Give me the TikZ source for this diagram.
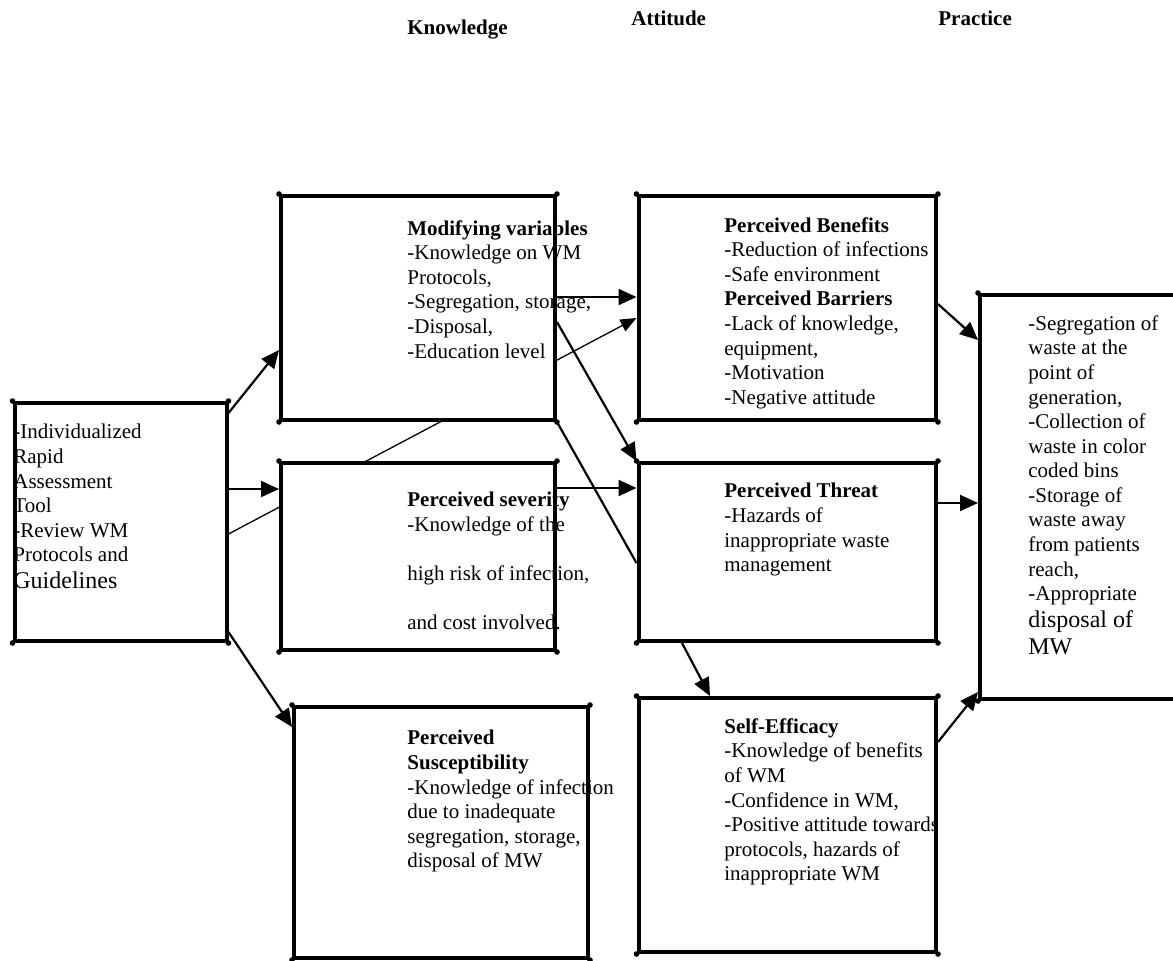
\documentclass[tikz,border=0pt]{standalone}
\usepackage{fontspec}
\setmainfont{Liberation Serif}
\usetikzlibrary{arrows.meta,fit,backgrounds}

\begin{document}
\begin{tikzpicture}[x=0.5pt,y=-0.5pt,
  hbmbox/.style={draw, line width=2pt, fill=white, inner sep=0pt},
  txt/.style={anchor=north west, inner sep=0pt, align=left,
    font=\fontsize{10.5}{12.3}\selectfont},
  head/.style={anchor=base west, inner sep=0pt,
    font=\fontsize{10.5}{12}\selectfont\bfseries},
  arr/.style={-{Triangle[length=9pt,width=8pt]}, line width=1.1pt},
  thinarr/.style={-{Triangle[length=8pt,width=6.5pt]}, line width=0.65pt},
  ]
  \useasboundingbox (0,0) rectangle (1173,960);
  \clip (0,0) rectangle (1173,960);
  %column titles
  \node[head] (khead) at (407,34) {Knowledge};
  \node[head] (ahead) at (631,25) {Attitude};
  \node[head] (phead) at (938,25) {Practice};
  %boxes
  \node[hbmbox, fit={(14.5,403) (226.5,641)}] (tool) {};
  \node[hbmbox, fit={(281,196) (555,420)}] (modvar) {};
  \node[hbmbox, fit={(281,463) (555,650)}] (sever) {};
  \node[hbmbox, fit={(294,707) (588,958)}] (susc) {};
  \node[hbmbox, fit={(638.5,196) (936,420)}] (benefit) {};
  \node[hbmbox, fit={(638.5,463) (936,641)}] (threat) {};
  \node[hbmbox, fit={(638.5,698) (936,952)}] (selfeff) {};
  \node[hbmbox, fit={(980,295) (1200,699)}] (practice) {};
  \foreach \b in {tool,modvar,sever,susc,benefit,threat,selfeff,practice}
    \foreach \c in {north west,north east,south west,south east}
      \fill (\b.\c) circle (1.4pt);
  %box texts
  \node[txt] (tooltxt) at (13,424) {-Individualized\\Rapid\\Assessment\\Tool\\
    -Review WM\\Protocols and\\[0.8pt]{\fontsize{12}{12.3}\selectfont Guidelines}};
  \node[txt] (modtxt) at (407,220) {\textbf{Modifying variables}\\-Knowledge on WM\\
    Protocols,\\-Segregation, storage,\\-Disposal,\\-Education level};
  \node[txt] (sevtxt) at (407,492) {\textbf{Perceived severity}\\-Knowledge of the\\[12.2pt]
    high risk of infection,\\[12pt]and cost involved.};
  \node[txt] (susctxt) at (407,730) {\textbf{Perceived}\\\textbf{Susceptibility}\\
    -Knowledge of infection\\due to inadequate\\segregation, storage,\\disposal of MW};
  \node[txt] (bentxt) at (724,217) {\textbf{Perceived Benefits}\\-Reduction of infections\\
    -Safe environment\\\textbf{Perceived Barriers}\\-Lack of knowledge,\\equipment,\\
    -Motivation\\-Negative attitude};
  \node[txt] (thrtxt) at (724,483) {\textbf{Perceived Threat}\\-Hazards of\\
    inappropriate waste\\management};
  \node[txt] (efftxt) at (724,718) {\textbf{Self-Efficacy}\\-Knowledge of benefits\\of WM\\
    -Confidence in WM,\\-Positive attitude towards\\protocols, hazards of\\inappropriate WM};
  \node[txt] (practxt) at (1028,315) {-Segregation of\\waste at the\\point of\\generation,\\
    -Collection of\\waste in color\\coded bins\\-Storage of\\waste away\\from patients\\
    reach,\\-Appropriate\\[1pt]{\fontsize{12}{12.3}\selectfont disposal of}\\[1.2pt]
    {\fontsize{12}{12.3}\selectfont MW}};
  %links
  \begin{pgfonlayer}{background}
    \draw[thinarr] (tool.east |- 0,534) -- (benefit.west |- 0,318);
  \end{pgfonlayer}
  \draw[arr] (tool.east |- 0,413) -- (modvar.west |- 0,350);
  \draw[arr] (tool.east |- 0,489) -- (sever.west |- 0,489);
  \draw[arr] (tool.east |- 0,632) -- (susc.west |- 0,727);
  \draw[arr] (modvar.east |- 0,297) -- (benefit.west |- 0,297);
  \draw[arr] (modvar.east |- 0,322) -- (threat.north west);
  \draw[line width=1.1pt] (modvar.south east) -- (threat.west |- 0,563);
  \draw[arr] (sever.east |- 0,488) -- (threat.west |- 0,488);
  \draw[arr] (benefit.east |- 0,304) -- (practice.west |- 0,340);
  \draw[arr] (threat.east |- 0,503) -- (practice.west |- 0,503);
  \draw[arr] (threat.south -| 682,0) -- (selfeff.north -| 710,0);
  \draw[arr] (selfeff.east |- 0,742) -- (practice.west |- 0,692);
\end{tikzpicture}
\end{document}
